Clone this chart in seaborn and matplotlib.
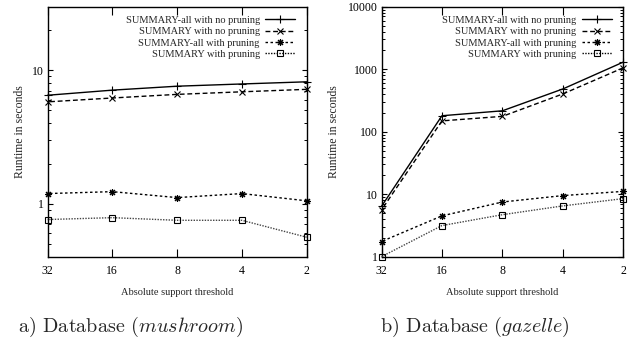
import numpy as np
import pandas as pd
import seaborn as sns
import matplotlib
matplotlib.use("Agg")
import matplotlib.pyplot as plt
from matplotlib.ticker import FixedLocator, FixedFormatter, LogLocator, NullFormatter, NullLocator

# ---- data ----
thresholds = [32, 16, 8, 4, 2]
threshold_labels = ["32", "16", "8", "4", "2"]
series_names = ["SUMMARY-all with no pruning", "SUMMARY with no pruning",
                "SUMMARY-all with pruning", "SUMMARY with pruning"]

mush_all_nop = [6.5, 7.1, 7.6, 7.9, 8.2]
mush_sum_nop = [5.8, 6.2, 6.6, 6.9, 7.2]
mush_all_p = [1.19, 1.23, 1.11, 1.19, 1.05]
mush_sum_p = [0.76, 0.785, 0.75, 0.75, 0.56]

gaz_all_nop = [6.4, 180, 216, 483, 1300]
gaz_sum_nop = [5.6, 149, 176, 402, 1054]
gaz_all_p = [1.75, 4.5, 7.5, 9.5, 11.1]
gaz_sum_p = [1.0, 3.15, 4.7, 6.5, 8.5]

mush_ticks = [1, 10]
mush_ticklabels = ["1", "10"]
gaz_ticks = [1, 10, 100, 1000, 10000]
gaz_ticklabels = ["1", "10", "100", "1000", "10000"]

caption_a = r"a) Database ($\mathit{mushroom}$)"
caption_b = r"b) Database ($\mathit{gazelle}$)"
xlabel = "Absolute support threshold"
ylabel = "Runtime in seconds"

# ---- style ----
sns.set_style("ticks")
plt.rcParams["font.family"] = ["Liberation Serif", "DejaVu Serif"]
plt.rcParams["mathtext.fontset"] = "cm"

styles = [
    dict(linestyle="-", marker="+", markersize=6, mfc="black"),
    dict(linestyle=(0, (3.5, 2)), marker="x", markersize=4.5, mfc="black"),
    dict(linestyle=(0, (1.8, 1.8)), marker=(8, 2, 0), markersize=5, mfc="black"),
    dict(linestyle=(0, (1, 1)), marker="s", markersize=4.5, mfc="none"),
]
line_colors = ["black", "black", "black", "#444444"]

fig = plt.figure(figsize=(6.35, 3.39), dpi=100)
ax1 = fig.add_axes([47.5 / 635, 1 - 256.7 / 339, 259.2 / 635, 250 / 339])
ax2 = fig.add_axes([381.5 / 635, 1 - 256.7 / 339, 241.8 / 635, 250 / 339])

TS = 8.5
LS = 7.5

def draw(ax, values, ylim, ticks, ticklabels, ylab_x):
    for name, vals, st, col in zip(series_names, values, styles, line_colors):
        df = pd.DataFrame({"x": thresholds, "y": vals})
        sns.lineplot(data=df, x="x", y="y", ax=ax, color=col, label=name,
                     linestyle=st["linestyle"], marker=st["marker"],
                     markersize=st["markersize"], markerfacecolor=st["mfc"],
                     markeredgecolor="black", markeredgewidth=0.8,
                     linewidth=1.0, clip_on=False, estimator=None, zorder=3)
    ax.set_xscale("log", base=2)
    ax.set_yscale("log")
    ax.set_xlim(32, 2)
    ax.set_ylim(*ylim)
    ax.xaxis.set_major_locator(FixedLocator(thresholds))
    ax.xaxis.set_major_formatter(FixedFormatter(threshold_labels))
    ax.xaxis.set_minor_locator(NullLocator())
    ax.yaxis.set_major_locator(FixedLocator(ticks))
    ax.yaxis.set_major_formatter(FixedFormatter(ticklabels))
    ax.yaxis.set_minor_locator(LogLocator(base=10, subs=np.arange(2, 10)))
    ax.yaxis.set_minor_formatter(NullFormatter())
    ax.tick_params(axis="both", which="both", direction="in", top=True, right=True,
                   labelsize=TS, color="black", labelcolor="black")
    ax.tick_params(axis="x", which="major", length=5.5, width=0.8, pad=6)
    ax.tick_params(axis="y", which="major", length=3.5, width=0.8, pad=3)
    ax.tick_params(axis="y", which="minor", length=2, width=0.7)
    for sp in ax.spines.values():
        sp.set_color("black")
        sp.set_linewidth(1.0)
    ax.set_xlabel(xlabel, fontsize=LS)
    ax.set_ylabel(ylabel, fontsize=8.5)
    ax.xaxis.set_label_coords(0.5, -0.125)
    ax.yaxis.set_label_coords(ylab_x, 0.5)
    w = ax.get_position().width * 635
    leg = ax.legend(loc="upper right", bbox_to_anchor=(1 - 11.5 / w, 1 - 9 / 250),
                    frameon=False, markerfirst=False, fontsize=LS,
                    handlelength=2.9, handletextpad=0.5, labelspacing=0.2,
                    borderpad=0, borderaxespad=0)
    for h in leg.legend_handles:
        h.set_color("black")

draw(ax1, [mush_all_nop, mush_sum_nop, mush_all_p, mush_sum_p], (0.4, 30),
     mush_ticks, mush_ticklabels, -0.083)
draw(ax2, [gaz_all_nop, gaz_sum_nop, gaz_all_p, gaz_sum_p], (1, 10000),
     gaz_ticks, gaz_ticklabels, -0.171)

fig.text(130.5 / 635, 1 - 332.3 / 339, caption_a, ha="center", va="baseline",
         fontsize=14.5, family="cmr10")
fig.text(475 / 635, 1 - 332.3 / 339, caption_b, ha="center", va="baseline",
         fontsize=14.5, family="cmr10")

fig.savefig("out.png", dpi=100)
